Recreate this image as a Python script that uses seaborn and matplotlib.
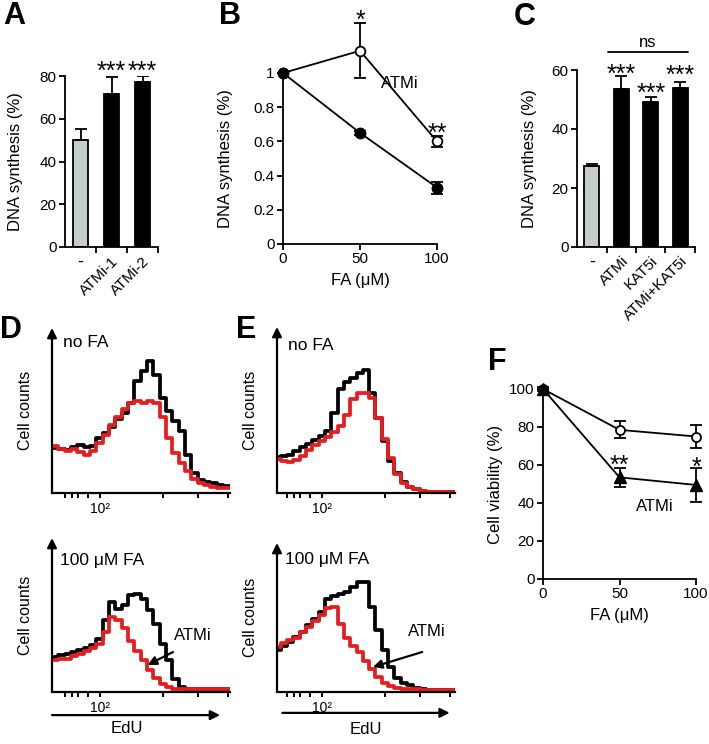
"""Figure: ATM inhibition and formaldehyde (FA) - DNA synthesis, EdU profiles, viability."""

import matplotlib
matplotlib.use("Agg")
import matplotlib.pyplot as plt
import numpy as np
import pandas as pd
import seaborn as sns

sns.set_theme(style="ticks")
plt.rcParams["font.family"] = ["Liberation Sans", "DejaVu Sans"]
plt.rcParams.update({
    "axes.edgecolor": "black", "text.color": "black", "axes.labelcolor": "black",
    "xtick.color": "black", "ytick.color": "black",
})

GREY = "#c4cdcd"
RED = "#e41e1e"

# ---- data ----
A_LABELS = ["-", "ATMi-1", "ATMi-2"]
A_MEAN = [50, 71.5, 77]
A_ERR = [5, 8, 3]

B_FA = [0, 50, 100]
B_CTRL = [1.0, 0.65, 0.33]
B_CTRL_ERR = [0, 0.01, 0.035]
B_ATMI = [1.0, 1.13, 0.60]
B_ATMI_ERR = [0, 0.16, 0.03]

C_LABELS = ["-", "ATMi", "KAT5i", "ATMi+KAT5i"]
C_MEAN = [27.5, 53.5, 49, 54]
C_ERR = [0.6, 4.5, 2, 2]

F_FA = [0, 50, 100]
F_CTRL = [100, 78.5, 75]
F_CTRL_ERR = [0, 4.5, 6]
F_ATMI = [100, 53.5, 49.5]
F_ATMI_ERR = [1, 5, 9]

# EdU histograms, log10 intensity bins (centers 1.3 ... 4.1), counts in a.u.
EDU_CENTERS = [1.3, 1.4, 1.5, 1.6, 1.7, 1.8, 1.9, 2.0, 2.1, 2.2, 2.3, 2.4, 2.5, 2.6, 2.7,
               2.8, 2.9, 3.0, 3.1, 3.2, 3.3, 3.4, 3.5, 3.6, 3.7, 3.8, 3.9, 4.0, 4.1]
D_TOP_CTRL = [45, 44, 43, 46, 48, 46, 47, 55, 60, 66, 74, 80, 90, 112, 122, 132, 118, 95, 82, 72, 62, 38, 20, 13, 11, 10, 8, 7, 7]
D_TOP_ATMI = [47, 44, 42, 44, 41, 38, 42, 50, 58, 68, 76, 84, 90, 92, 90, 92, 90, 76, 55, 40, 30, 22, 14, 10, 8, 6, 5, 5, 5]
D_BOT_CTRL = [35, 37, 38, 40, 42, 44, 47, 53, 72, 90, 83, 87, 97, 98, 93, 82, 68, 48, 32, 13, 5, 3, 3, 3, 3, 3, 3, 3, 3]
D_BOT_ATMI = [32, 33, 33, 36, 38, 41, 44, 48, 60, 75, 72, 64, 51, 41, 32, 22, 14, 8, 5, 3, 3, 3, 3, 3, 3, 3, 3, 3, 3]
E_TOP_CTRL = [36, 37, 38, 42, 46, 49, 53, 57, 62, 80, 104, 111, 115, 120, 123, 100, 75, 52, 32, 20, 11, 6, 4, 2, 1, 1, 1, 1, 1]
E_TOP_ATMI = [34, 32, 31, 33, 37, 43, 48, 52, 56, 61, 67, 78, 94, 100, 100, 95, 75, 54, 35, 19, 10, 6, 4, 2, 1, 1, 1, 1, 1]
E_BOT_CTRL = [42, 46, 50, 55, 60, 67, 73, 80, 93, 96, 98, 100, 105, 110, 110, 85, 62, 42, 25, 14, 9, 7, 4, 3, 2, 2, 2, 2, 2]
E_BOT_ATMI = [45, 49, 52, 54, 60, 65, 71, 77, 84, 85, 68, 54, 46, 40, 31, 23, 15, 9, 6, 4, 3, 3, 3, 2, 2, 2, 2, 2, 2]
EDU_TICKS = [1.45, 1.56, 1.66, 1.82, 2, 3, 3.55, 4.03]

W, H = 709, 744
fig = plt.figure(figsize=(W / 100, H / 100), dpi=100)


def rect(x0, y0, x1, y1):
    """pixel box (top-left origin) -> figure fraction"""
    return [x0 / W, 1 - y1 / H, (x1 - x0) / W, (y1 - y0) / H]


def style(ax):
    ax.spines[["top", "right"]].set_visible(False)
    ax.spines[["left", "bottom"]].set_linewidth(1.3)
    ax.tick_params(width=1.3, length=4, labelsize=11, pad=2)


def stars(ax, x, y, s, fs=18):
    # y is where the centre of the star glyphs should sit
    ax.annotate(s, (x, y), xytext=(0, -0.6 * fs), textcoords="offset points",
                ha="center", va="baseline", fontsize=fs, annotation_clip=False)


def panel_letter(x, y, s):
    fig.text(x / W, 1 - y / H, s, fontsize=22, fontweight="bold", ha="center", va="center")


def bar_panel(box, labels, means, errs, ymax, step):
    ax = fig.add_axes(rect(*box))
    sns.barplot(x=labels, y=means, hue=labels, palette=[GREY] + ["black"] * (len(labels) - 1),
                width=0.5, edgecolor="black", linewidth=1.3, legend=False, ax=ax)
    pos = np.arange(len(labels))
    ax.errorbar(pos, means, yerr=[np.zeros(len(errs)), errs], fmt="none", ecolor="black",
                elinewidth=1.3, capsize=4, capthick=1.3, zorder=1)
    style(ax)
    ax.set_xlim(-0.5, len(labels) - 0.5)
    ax.set_ylim(0, ymax)
    ax.set_yticks(np.arange(0, ymax + 1, step))
    ax.set_xticks(pos)
    ax.set_xticks(pos + 0.5, minor=True)
    ax.tick_params(axis="x", which="major", length=0, pad=5)
    ax.tick_params(axis="x", which="minor", length=4, width=1.3)
    ax.set_xticklabels(labels, fontsize=11)
    for i, t in enumerate(ax.get_xticklabels()):
        if i == 0:
            t.set_fontsize(13)
        else:
            t.set_rotation(45)
            t.set_ha("right")
            t.set_rotation_mode("anchor")
    ax.set_xlabel("")
    ax.set_ylabel("DNA synthesis (%)", fontsize=12)
    return ax


def hist_panel(box, xlim, ctrl, atmi, title, title_xy):
    x0, y0, x1, y1 = box
    ax = fig.add_axes(rect(*box))
    for counts, col in ((ctrl, "black"), (atmi, RED)):
        df = pd.DataFrame({"edu": EDU_CENTERS, "n": counts})
        sns.histplot(data=df, x="edu", weights="n", binwidth=0.1, binrange=(1.25, 4.15),
                     element="step", fill=False, color=col, linewidth=2.7, ax=ax)
    ax.set_xlim(*xlim)
    ax.set_ylim(0, y1 - y0)
    ax.spines[["top", "right", "left"]].set_visible(False)
    ax.spines["bottom"].set_linewidth(1.6)
    ax.set_yticks([])
    ax.set_xticks(EDU_TICKS)
    ax.set_xticklabels(["10²" if t == 2 else "" for t in EDU_TICKS], fontsize=10)
    ax.tick_params(axis="x", length=3.5, width=1.4, pad=3)
    ax.annotate("", xy=(0, 1.0), xytext=(0, 0), xycoords="axes fraction",
                arrowprops=dict(arrowstyle="-|>", color="black", lw=1.6, mutation_scale=14,
                                shrinkA=0, shrinkB=0))
    ax.text(*title_xy, title, transform=ax.transAxes, fontsize=12.5, va="center", ha="left")
    ax.set_xlabel("")
    ax.set_ylabel("Cell counts", fontsize=11.5)
    ax.yaxis.set_label_coords(-0.107, 0.5)
    return ax


def edu_arrow(ax, x_start, x_end, y, text_x, text_y):
    ax.annotate("", xy=(x_end, y), xytext=(x_start, y), xycoords="axes fraction",
                arrowprops=dict(arrowstyle="-|>", color="black", lw=1.6, mutation_scale=14,
                                shrinkA=0, shrinkB=0))
    ax.text(text_x, text_y, "EdU", transform=ax.transAxes, fontsize=12, ha="center", va="center")


def atmi_arrow(ax, head, tail, text_xy):
    ax.annotate("", xy=head, xytext=tail,
                arrowprops=dict(arrowstyle="-|>", color="black", lw=1.6, mutation_scale=13,
                                shrinkA=0, shrinkB=0))
    ax.text(*text_xy, "ATMi", fontsize=12, ha="center", va="center")


# ---- A ----
axA = bar_panel((65, 76, 158, 247), A_LABELS, A_MEAN, A_ERR, 80, 20)
axA.yaxis.set_label_coords(-0.45, 0.5)
for i in (1, 2):
    stars(axA, i, 85.6, "***")
panel_letter(14, 16, "A")

# ---- B ----
axB = fig.add_axes(rect(283, 73, 437, 244))
axB.errorbar(B_FA, B_ATMI, yerr=B_ATMI_ERR, color="black", lw=1.3, marker="o", ms=7,
             mfc="white", mec="black", mew=1.3, capsize=4, capthick=1.3, clip_on=False, zorder=3)
axB.errorbar(B_FA, B_CTRL, yerr=B_CTRL_ERR, color="black", lw=1.3, marker="o", ms=7.5,
             mfc="black", mec="black", capsize=4, capthick=1.3, clip_on=False, zorder=4)
style(axB)
axB.set_xlim(0, 100)
axB.set_ylim(0, 1)
axB.set_xticks(B_FA)
axB.set_yticks([0, 0.2, 0.4, 0.6, 0.8, 1])
axB.yaxis.set_major_formatter(plt.FuncFormatter(lambda v, _: f"{v:g}"))
axB.set_xlabel("FA (μM)", fontsize=12)
axB.xaxis.set_label_coords(0.5, -0.17)
axB.set_ylabel("DNA synthesis (%)", fontsize=12)
axB.yaxis.set_label_coords(-0.325, 0.5)
stars(axB, 50, 1.35, "*")
stars(axB, 100, 0.69, "**")
axB.text(76, 0.94, "ATMi", fontsize=12, ha="center", va="center")
panel_letter(230, 16, "B")

# ---- C ----
axC = bar_panel((577, 70, 695, 247), C_LABELS, C_MEAN, C_ERR, 60, 20)
axC.yaxis.set_label_coords(-0.34, 0.5)
for i, y in zip((1, 2, 3), (61, 54.6, 60.7)):
    stars(axC, i, y, "***")
axC.plot([0.55, 3.25], [66.1, 66.1], color="black", lw=1.3, clip_on=False)
axC.text(1.9, 69.3, "ns", fontsize=12, ha="center", va="center")
panel_letter(525, 17, "C")

# ---- D ----
axD1 = hist_panel((52, 328, 230, 493), (1.25, 4.06), D_TOP_CTRL, D_TOP_ATMI, "no FA", (0.062, 0.91))
axD2 = hist_panel((52, 538, 230, 692), (1.25, 4.06), D_BOT_CTRL, D_BOT_ATMI, "100 μM FA", (0.045, 0.857))
edu_arrow(axD2, 0.0, 0.944, -0.15, 0.42, -0.235)
atmi_arrow(axD2, (2.76, 27), (3.16, 40), (3.48, 57))
panel_letter(11, 330, "D")

# ---- E ----
axE1 = hist_panel((277, 327, 455, 493), (1.29, 4.11), E_TOP_CTRL, E_TOP_ATMI, "no FA", (0.062, 0.89))
axE2 = hist_panel((277, 543, 455, 692), (1.29, 4.11), E_BOT_CTRL, E_BOT_ATMI, "100 μM FA", (0.045, 0.886))
edu_arrow(axE2, 0.03, 0.97, -0.14, 0.5, -0.255)
atmi_arrow(axE2, (2.81, 25), (3.59, 40), (3.67, 60))
panel_letter(246, 330, "E")

# ---- F ----
axF = fig.add_axes(rect(543, 389, 696, 579))
axF.errorbar(F_FA, F_CTRL, yerr=F_CTRL_ERR, color="black", lw=1.3, marker="o", ms=6.5,
             mfc="white", mec="black", mew=1.3, capsize=4, capthick=1.3, clip_on=False, zorder=3)
axF.errorbar(F_FA, F_ATMI, yerr=F_ATMI_ERR, color="black", lw=1.3, marker="^", ms=8.5,
             mfc="black", mec="black", capsize=4, capthick=1.3, clip_on=False, zorder=4)
style(axF)
axF.set_xlim(0, 100)
axF.set_ylim(0, 100)
axF.set_xticks(F_FA)
axF.set_yticks([0, 20, 40, 60, 80, 100])
axF.set_xlabel("FA (μM)", fontsize=12)
axF.xaxis.set_label_coords(0.5, -0.155)
axF.set_ylabel("Cell viability (%)", fontsize=12)
axF.yaxis.set_label_coords(-0.26, 0.5)
stars(axF, 50, 63.7, "**")
stars(axF, 100, 62.6, "*")
axF.text(73, 38, "ATMi", fontsize=12, ha="center", va="center")
panel_letter(497, 362, "F")

fig.savefig("out.png", dpi=100)
